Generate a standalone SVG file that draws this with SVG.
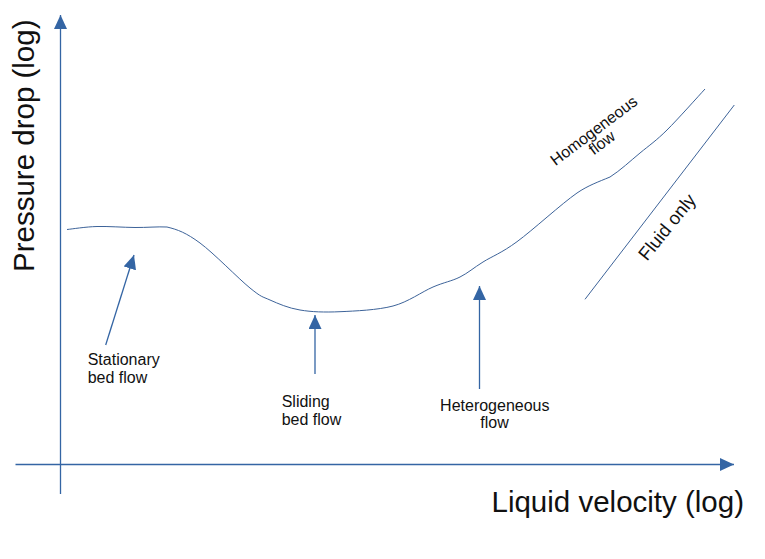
<svg xmlns="http://www.w3.org/2000/svg" width="765" height="559" viewBox="0 0 765 559">
<style>
.ax{stroke:#3465a4;stroke-width:1.3;fill:none}
.cv{stroke:#3d6399;stroke-width:1;fill:none}
.lbl{font-family:"Liberation Sans",Arial,sans-serif;font-size:16px;fill:#111}
.big{font-family:"Liberation Sans",Arial,sans-serif;font-size:29.5px;fill:#111}
</style>
<defs>
<marker id="ah" markerUnits="userSpaceOnUse" markerWidth="15" markerHeight="14" refX="14" refY="6.5" orient="auto">
<path d="M0,0 L14,6.5 L0,13 z" fill="#3465a4"/>
</marker>
</defs>
<rect width="765" height="559" fill="#fff"/>
<g id="axes">
<line class="ax" x1="60.5" y1="494" x2="60.5" y2="15" marker-end="url(#ah)"/>
<line class="ax" x1="15.5" y1="464.5" x2="734" y2="464.5" marker-end="url(#ah)"/>
</g>
<g id="curves">
<path id="slurry-curve" class="cv" d="M67,229.5 C72,229 85.7,226.8 97,226.5 C108.3,226.2 123.3,227.4 135,227.5 C146.7,227.6 158,226.5 167,227 C177.8,229.6 186.2,232.8 200,243 C213.8,253.2 238.3,278.5 250,288 C261.7,297.5 261.7,296.3 270,300 C278.3,303.7 288.3,308.1 300,310 C311.7,312 324.5,312.4 340,311.7 C355.5,311 377.5,310.1 393,306 C408.5,301.9 421.8,291.8 433,287 C444.2,282.2 451.7,281.2 460,277 C468.3,272.8 473.5,267.9 483,262 C492.5,256.1 501.3,253.2 517,241.7 C532.7,230.2 561.5,203.8 577,193 C588,185.5 598,182 610,177 C620.5,170.3 630.5,160.8 640,153 C649.5,145.2 656.2,140.7 667,130 C677.8,119.3 698.7,95.8 705,89"/>
<line id="fluid-line" class="cv" x1="585" y1="299.3" x2="734.3" y2="105"/>
</g>
<g id="connectors">
<line class="ax" x1="105.7" y1="345" x2="134" y2="255" marker-end="url(#ah)"/>
<line class="ax" x1="315" y1="374" x2="315" y2="315" marker-end="url(#ah)"/>
<line class="ax" x1="479.5" y1="389" x2="479.5" y2="286" marker-end="url(#ah)"/>
</g>
<g id="axis-labels">
<text class="big" transform="translate(33.5,272) rotate(-90)">Pressure drop (log)</text>
<text class="big" x="491.5" y="511.5">Liquid velocity (log)</text>
</g>
<g id="stationary">
<text class="lbl" x="87.7" y="365.3">Stationary</text>
<text class="lbl" x="87.7" y="383.3">bed flow</text>
</g>
<g id="sliding">
<text class="lbl" x="281.7" y="406.7">Sliding</text>
<text class="lbl" x="281.7" y="425">bed flow</text>
</g>
<g id="heterogeneous">
<text class="lbl" x="494.8" y="410.7" text-anchor="middle">Heterogeneous</text>
<text class="lbl" x="494.5" y="428.3" text-anchor="middle">flow</text>
</g>
<g id="homogeneous">
<text class="lbl" text-anchor="middle" transform="translate(597,135) rotate(-37)">Homogeneous</text>
<text class="lbl" text-anchor="middle" transform="translate(605,147) rotate(-37)">flow</text>
</g>
<g id="fluid-only">
<text class="lbl" style="font-size:18.5px" text-anchor="middle" transform="translate(672,231) rotate(-51)">Fluid only</text>
</g>
</svg>
